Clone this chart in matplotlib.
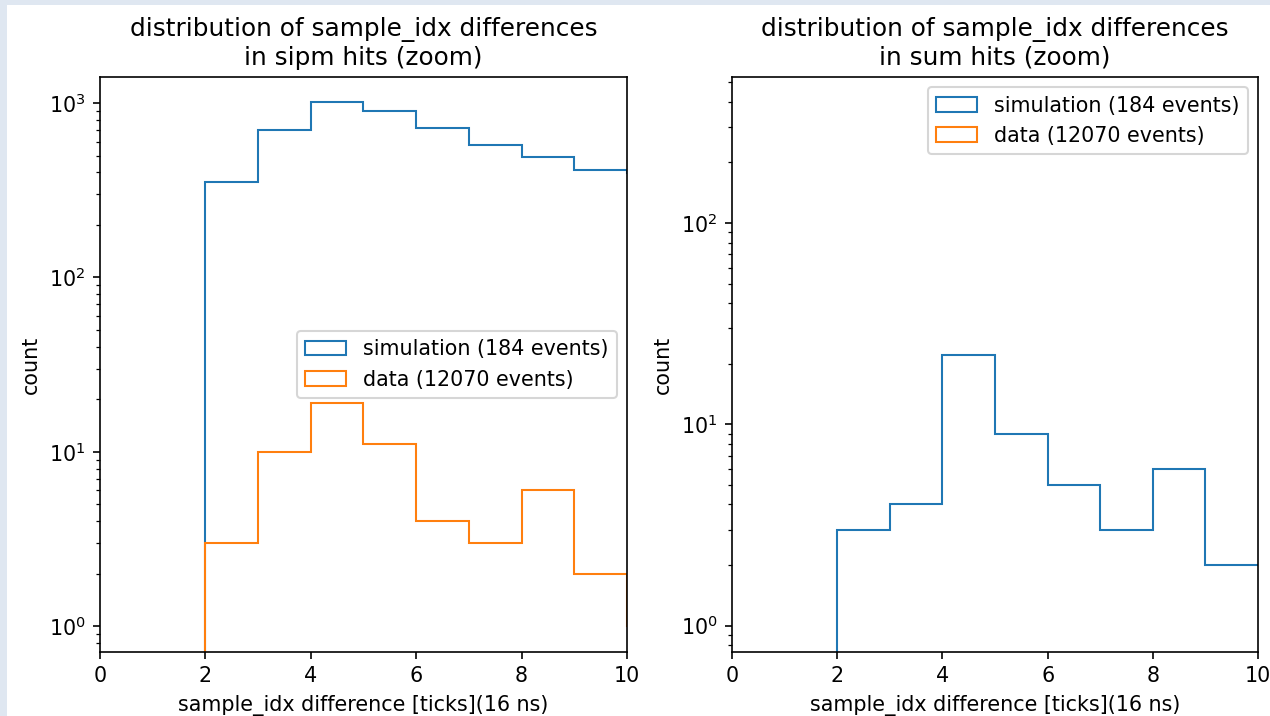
import numpy as np
import matplotlib.pyplot as plt
from matplotlib.patches import Rectangle

# bin edges (ticks) and counts
edges = [0, 1, 2, 3, 4, 5, 6, 7, 8, 9, 10, 11]
sipm_sim = [0, 0, 352, 700, 1010, 900, 720, 575, 490, 413, 395]
sipm_data = [0, 0, 3, 10, 19, 11, 4, 3, 6, 2, 1]
sum_sim = [0, 0, 3, 4, 22, 9, 5, 3, 6, 2, 2]
sum_data = [0, 0, 0, 0, 0, 0, 0, 0, 0, 0, 0]

labels = ['simulation (184 events)', 'data (12070 events)']
titles = ['distribution of sample_idx differences\nin sipm hits (zoom)',
          'distribution of sample_idx differences\nin sum hits (zoom)']

W, H = 1270, 716
DPI = 148.6
fig = plt.figure(figsize=(W / DPI, H / DPI), dpi=DPI, facecolor='#dfe7f1')
# white page inside the light screenshot border
fig.patches.append(Rectangle((7 / W, 0), 1 - 7 / W, 1 - 5 / H,
                             transform=fig.transFigure, facecolor='white',
                             edgecolor='none', zorder=-1))

ax1 = fig.add_axes([100 / W, 1 - 652 / H, 527 / W, 575 / H])
ax2 = fig.add_axes([732 / W, 1 - 652 / H, 526 / W, 575 / H])

centers = np.array(edges[:-1]) + 0.5

for ax, sim, dat, ylim, loc, title in [
        (ax1, sipm_sim, sipm_data, (0.71, 1410), 'center right', titles[0]),
        (ax2, sum_sim, sum_data, (0.74, 531), 'upper right', titles[1])]:
    ax.hist(centers, bins=edges, weights=sim, histtype='step', log=True,
            color='#1f77b4', label=labels[0])
    ax.hist(centers, bins=edges, weights=dat, histtype='step', log=True,
            color='#ff7f0e', label=labels[1])
    ax.set_xlim(0, 10)
    ax.set_ylim(*ylim)
    ax.set_xlabel('sample_idx difference [ticks](16 ns)')
    ax.set_ylabel('count')
    ax.set_title(title)
    ax.legend(loc=loc)

fig.savefig('out.png', dpi=DPI, facecolor=fig.get_facecolor())
